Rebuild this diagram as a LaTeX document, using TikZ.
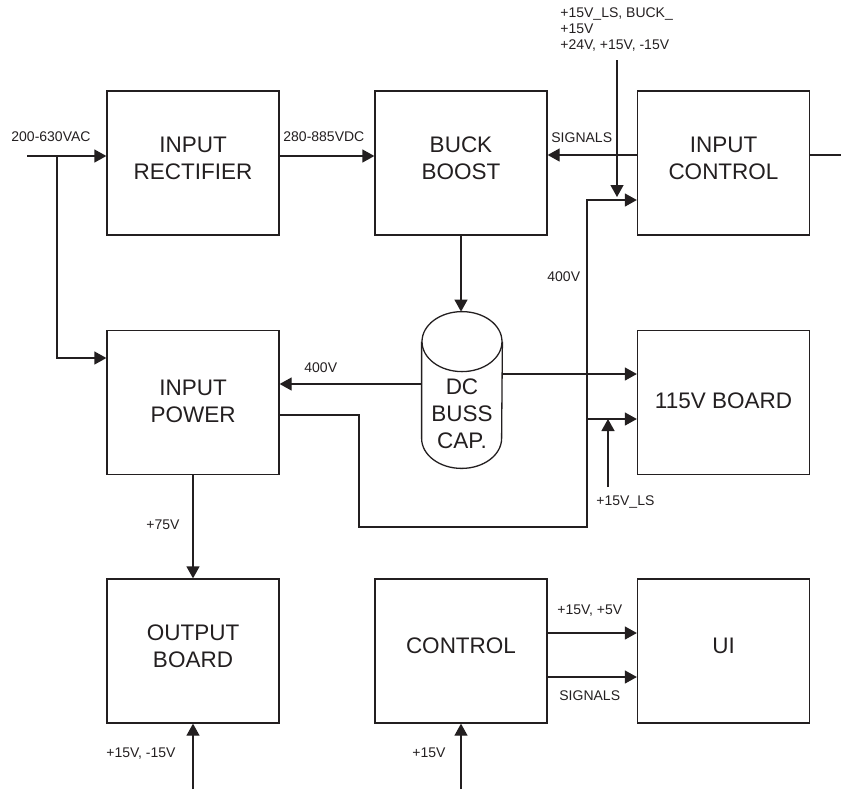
\documentclass[tikz,border=0pt]{standalone}
\usepackage{fontspec}
\setmainfont{Liberation Sans}
\usepackage{xcolor}
\usetikzlibrary{arrows.meta,positioning}
\definecolor{inkGray}{HTML}{231F20}

\begin{document}
\begin{tikzpicture}[x=0.5pt,y=0.5pt,
  blk/.style={draw=inkGray,line width=0.65pt,minimum width=86pt,minimum height=72pt,inner sep=0pt,align=center,text depth=5pt,font=\fontsize{11.25}{13.5}\selectfont,text=inkGray},
  lbl/.style={anchor=base west,inner sep=0pt,font=\fontsize{7}{8}\selectfont,text=inkGray},
  wire/.style={draw=inkGray,line width=0.65pt},
  arr/.style={wire,-{Triangle[length=6pt,width=6.5pt]}}]
\useasboundingbox (0,0) rectangle (841,-789);
% blocks
\node[blk] (rect) at (193,-163) {INPUT\\RECTIFIER};
\node[blk] (buck) at (461,-163) {BUCK\\BOOST};
\node[blk] (inctl) at (723.5,-163) {INPUT\\CONTROL};
\node[blk,text depth=1.5pt] (inpow) at (193,-402.5) {INPUT\\POWER};
\node[blk,text depth=1.5pt] (bd115) at (723.5,-402.5) {115V BOARD};
\node[blk] (outb) at (193,-651) {OUTPUT\\BOARD};
\node[blk] (ctrl) at (461,-651) {CONTROL};
\node[blk] (ui) at (723.5,-651) {UI};
% dc buss cap
\node[minimum width=40pt,minimum height=78pt,inner sep=0pt] (cap) at (462,-390) {};
\draw[wire] ([yshift=-15pt]cap.north) ellipse (20pt and 15pt);
\draw[wire] ([yshift=-15pt]cap.north west) -- ([yshift=15pt]cap.south west) arc (180:360:20pt and 15pt) -- ([yshift=-15pt]cap.north east);
\node[align=center,inner sep=0pt,font=\fontsize{11.25}{13.5}\selectfont,text=inkGray] (capname) at (462,-414) {DC\\BUSS\\CAP.};
% free ends
\coordinate (acin) at (27,-156);
\coordinate (split) at (57,-156);
\coordinate (topin) at (617,-60);
\coordinate (icout) at (841,-155);
\coordinate (tap) at (587,-419);
\coordinate (lsin) at (608,-487);
\coordinate (obin) at (193,-789);
\coordinate (ctin) at (461,-789);
% connectors
\draw[arr] (acin) -- (rect.west |- acin);
\draw[arr] (split) |- (inpow.west |- 0,-358);
\draw[arr] (rect.east |- 0,-156) -- (buck.west |- 0,-156);
\draw[arr] (inctl.west |- 0,-155) -- (buck.east |- 0,-155);
\draw[wire] (inctl.east |- icout) -- (icout);
\draw[arr] (topin) -- (617,-197);
\draw[arr] (buck.south) -- (cap.north -| buck.south);
\draw[arr] (cap.west |- 0,-384) -- (inpow.east |- 0,-384);
\draw[arr] (cap.east |- 0,-374) -- (bd115.west |- 0,-374);
\draw[arr] (inpow.east |- 0,-415) -| (359,-527) -| (587,-200) -- (inctl.west |- 0,-200);
\draw[arr] (tap) -- (bd115.west |- tap);
\draw[arr] (lsin) -- (lsin |- tap);
\draw[arr] (inpow.south) -- (outb.north);
\draw[arr] (obin) -- (outb.south);
\draw[arr] (ctin) -- (ctrl.south);
\draw[arr] (ctrl.east |- 0,-633) -- (ui.west |- 0,-633);
\draw[arr] (ctrl.east |- 0,-677) -- (ui.west |- 0,-677);
% labels
\node[lbl] (vac) at (11,-141) {200-630VAC};
\node[lbl] (vdc) at (283,-141) {280-885VDC};
\node[lbl] (sigtop) at (551,-142) {SIGNALS};
\node[lbl,anchor=north west,align=left] (supply) at (560,-7) {+15V\_LS, BUCK\_\\+15V\\+24V, +15V, -15V};
\node[lbl] (hv1) at (547,-281) {400V};
\node[lbl] (hv2) at (304,-372) {400V};
\node[lbl] (ls) at (596,-505) {+15V\_LS};
\node[lbl] (v75) at (146,-529) {+75V};
\node[lbl] (pm15) at (106,-757) {+15V, -15V};
\node[lbl] (p15) at (412,-757) {+15V};
\node[lbl] (p15p5) at (557,-614) {+15V, +5V};
\node[lbl] (sigbot) at (559,-700) {SIGNALS};
\end{tikzpicture}
\end{document}
